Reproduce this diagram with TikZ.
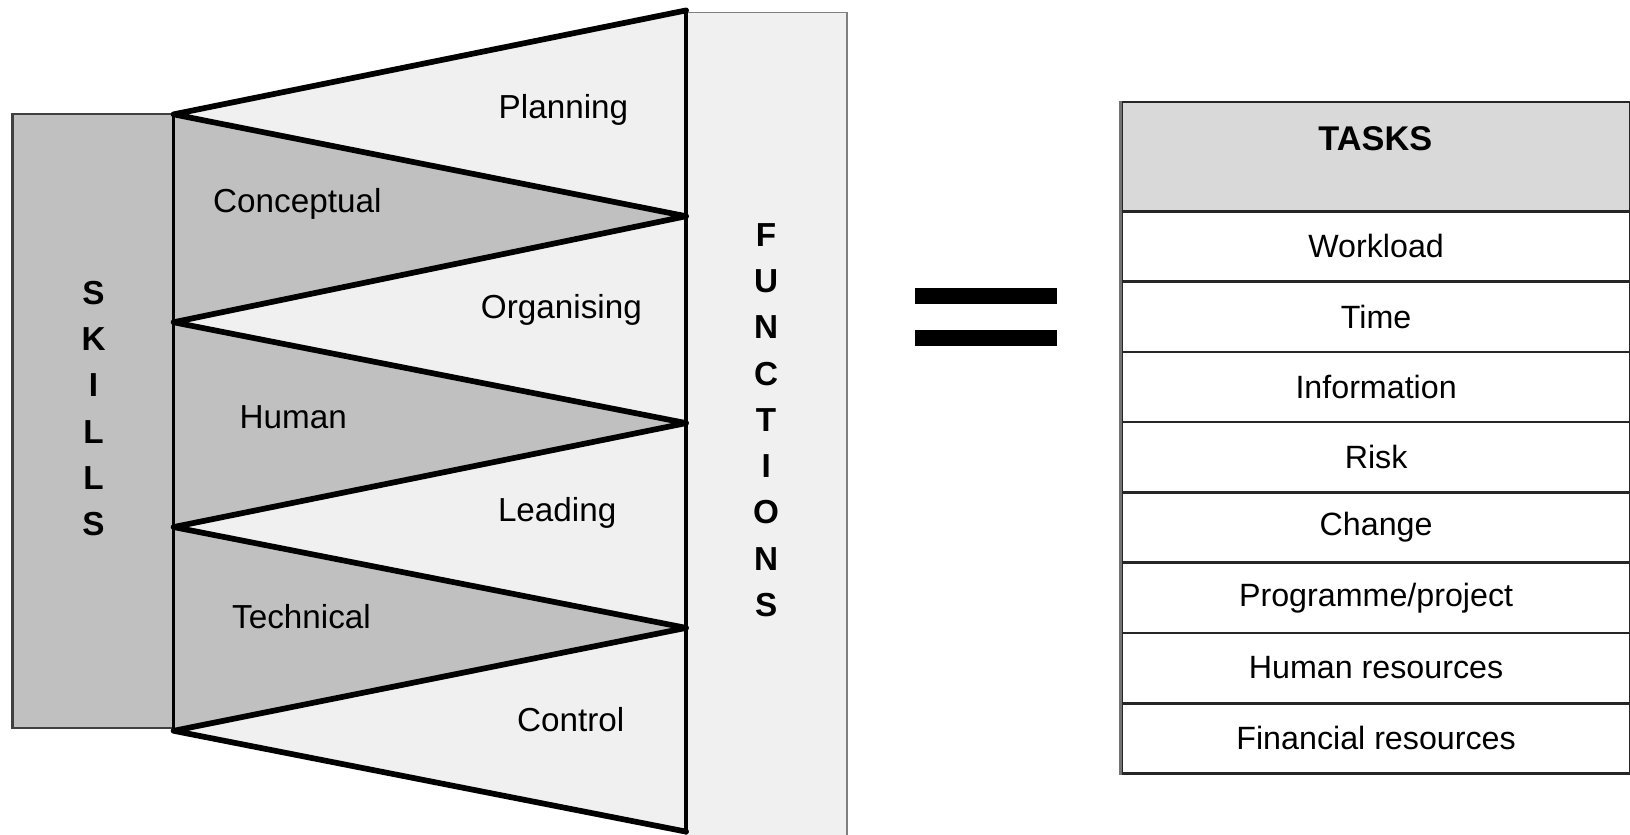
\documentclass[tikz,border=0pt]{standalone}
\usepackage{fontspec}
\setmainfont{Liberation Sans}
\definecolor{skgray}{HTML}{C0C0C0}
\definecolor{light}{HTML}{F0F0F0}
\definecolor{hdrgray}{HTML}{D9D9D9}
\begin{document}
\begin{tikzpicture}[x=1pt,y=-1pt,
  lbl/.style={font=\fontsize{32}{36}\selectfont, inner sep=0pt},
  colword/.style={font=\fontsize{32}{44.5}\selectfont\bfseries, align=center, inner sep=0pt},
  lighttri/.style={fill=light},
  darktri/.style={fill=skgray},
  zig/.style={line width=5.5pt, line join=round, line cap=round},
  taskrow/.style={draw=black!85, line width=2.5pt, fill=white, minimum width=489pt, minimum height=67.6pt, inner sep=0pt, anchor=north west, font=\fontsize{31}{36}\selectfont},
  hdrbox/.style={draw=black!85, line width=2.5pt, fill=hdrgray, minimum width=489pt, minimum height=105pt, inner sep=0pt, anchor=north west}
]
\useasboundingbox (0,0) rectangle (1568,803);
\fill[white] (0,0) rectangle (1568,803);

% side bars
\draw[fill=skgray, draw=black!75, line width=2pt] (12,110) rectangle (167,700);
\draw[fill=light, draw=black!50, line width=1.5pt] (660,12) rectangle (815,806);

% vertices
\coordinate (L0) at (167,110);
\coordinate (L1) at (167,310);
\coordinate (L2) at (167,507);
\coordinate (L3) at (167,703);
\coordinate (R0) at (660,10);
\coordinate (R1) at (660,208);
\coordinate (R2) at (660,407);
\coordinate (R3) at (660,604);
\coordinate (R4) at (660,800);

% triangles
\fill[lighttri] (L0) -- (R0) -- (R1) -- cycle;
\fill[lighttri] (L1) -- (R1) -- (R2) -- cycle;
\fill[lighttri] (L2) -- (R2) -- (R3) -- cycle;
\fill[lighttri] (L3) -- (R3) -- (R4) -- cycle;
\fill[darktri] (L0) -- (R1) -- (L1) -- cycle;
\fill[darktri] (L1) -- (R2) -- (L2) -- cycle;
\fill[darktri] (L2) -- (R3) -- (L3) -- cycle;

\draw[line width=3pt] (L0) -- (L3);
\draw[line width=4.5pt] (R0) -- (R4);
\draw[zig] (R0) -- (L0) -- (R1) -- (L1) -- (R2) -- (L2) -- (R3) -- (L3) -- (R4);

% labels
\node[lbl] (planning) at (542,106) {Planning};
\node[lbl] (conceptual) at (286,196) {Conceptual};
\node[lbl] (organising) at (540,298) {Organising};
\node[lbl] (human) at (282,401) {Human};
\node[lbl] (leading) at (536,493) {Leading};
\node[lbl] (technical) at (290,593) {Technical};
\node[lbl] (control) at (549,692) {Control};

\node[colword] (skills) at (90,393) {S\\K\\I\\L\\L\\S};
\node[colword] (functions) at (737,404) {F\\U\\N\\C\\T\\I\\O\\N\\S};

% equals sign
\fill (880,277) rectangle (1017,292);
\fill (880,317) rectangle (1017,333);

% tasks table
\node[hdrbox] (hdr) at (1078,97) {};
\node[font=\fontsize{33}{36}\selectfont\bfseries, inner sep=0pt] (tasks) at (1323,133) {TASKS};
\node[taskrow] (t1) at (1078,202) {Workload};
\node[taskrow] (t2) at (1078,269.6) {Time};
\node[taskrow] (t3) at (1078,337.2) {Information};
\node[taskrow] (t4) at (1078,404.8) {Risk};
\node[taskrow] (t5) at (1078,472.4) {Change};
\node[taskrow] (t6) at (1078,540) {Programme/project};
\node[taskrow] (t7) at (1078,607.6) {Human resources};
\node[taskrow] (t8) at (1078,675.2) {Financial resources};
\draw[black!55, line width=3.5pt] (hdr.north west) -- (t8.south west);
\end{tikzpicture}
\end{document}
